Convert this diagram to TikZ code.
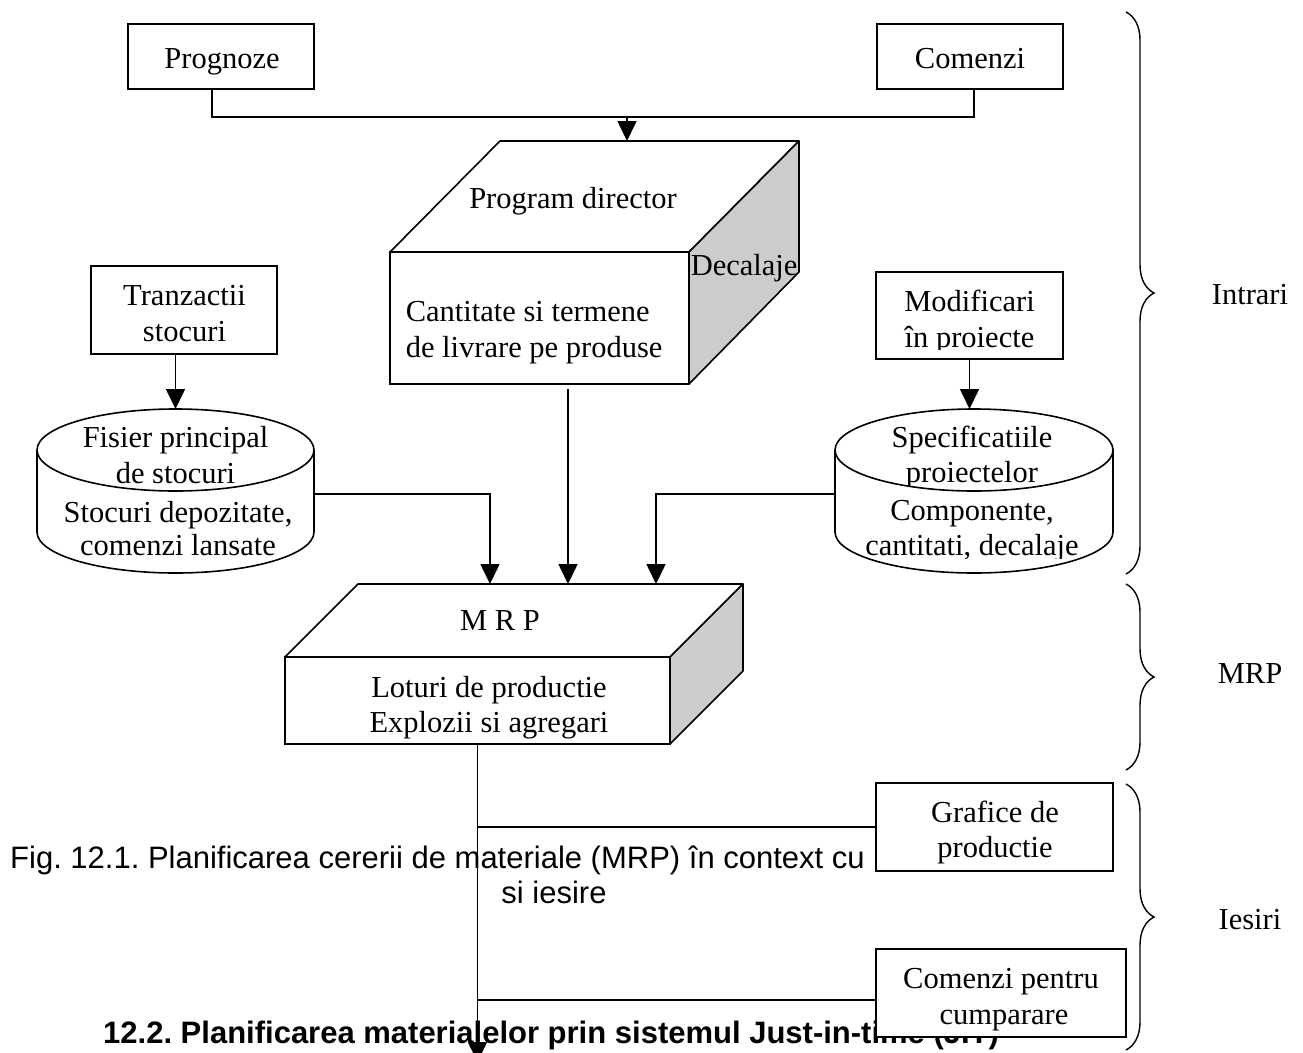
\documentclass[tikz,border=0pt]{standalone}
\usepackage{fontspec}
\setmainfont{Liberation Serif}
\newfontfamily\arialfont{Liberation Sans}
\usetikzlibrary{arrows.meta,decorations.pathreplacing}
\pgfdeclarelayer{bg}
\pgfsetlayers{bg,main}
\begin{document}
\frenchspacing
\begin{tikzpicture}[x=1pt,y=-1pt,line width=1.6pt,
  box/.style={draw,fill=white,inner sep=0pt,outer sep=0pt},
  ghost/.style={inner sep=0pt,outer sep=0pt},
  txt/.style={inner sep=0pt,anchor=base,font=\fontsize{30.5}{35}\selectfont},
  txtl/.style={txt,anchor=base west},
  captxt/.style={inner sep=0pt,anchor=base,font=\arialfont\fontsize{31}{35}\selectfont},
  captxtb/.style={captxt,font=\arialfont\bfseries\fontsize{31}{35}\selectfont},
  arr/.style={-{Triangle[length=20pt,width=19pt]}},
  conn/.style={line width=1.6pt},
  sideface/.style={draw,fill=black!20,line join=round},
  topface/.style={draw,fill=white,line join=round},
  brc/.style={decorate,decoration={brace,amplitude=28pt},line width=1.4pt}
]
\useasboundingbox (0,0) rectangle (1303,1052);

% ---------- boxes ----------
\node[box,minimum width=186pt,minimum height=65pt] (prog) at (221,56.5) {};
\node[box,minimum width=186pt,minimum height=65pt] (com) at (970,56.5) {};
\node[box,minimum width=299pt,minimum height=132pt] (pd) at (539.5,318) {};
\draw[topface] (pd.north west) -- ++(110,-111) -- ++(299,0) -- (pd.north east) -- cycle;
\draw[sideface] (pd.north east) -- ++(110,-111) -- ++(0,131) -- (pd.south east) -- cycle;
\node[box,minimum width=186pt,minimum height=88pt] (tz) at (184,310) {};
\node[box,minimum width=187pt,minimum height=87pt] (mod) at (969.5,315.5) {};
\node[box,minimum width=385pt,minimum height=87pt] (mrp) at (477.5,700.5) {};
\draw[topface] (mrp.north west) -- ++(73,-73) -- ++(385,0) -- (mrp.north east) -- cycle;
\draw[sideface] (mrp.north east) -- ++(73,-73) -- ++(0,87) -- (mrp.south east) -- cycle;
\node[box,minimum width=237pt,minimum height=88pt] (gr) at (994.5,827) {};
\node[box,minimum width=250pt,minimum height=88pt] (cp) at (1001,993) {};

% ---------- cylinders ----------
\node[ghost,minimum width=277pt,minimum height=164pt] (cylL) at (175.5,491) {};
\draw (cylL.north) ++(0,41) ellipse[x radius=138.5,y radius=41];
\draw ([yshift=-41pt]cylL.north west) -- ([yshift=41pt]cylL.south west)
  arc[start angle=180,end angle=0,x radius=138.5,y radius=41] -- ([yshift=-41pt]cylL.north east);
\node[ghost,minimum width=278pt,minimum height=164pt] (cylR) at (974,491) {};
\draw (cylR.north) ++(0,41) ellipse[x radius=139,y radius=41];
\draw ([yshift=-41pt]cylR.north west) -- ([yshift=41pt]cylR.south west)
  arc[start angle=180,end angle=0,x radius=139,y radius=41] -- ([yshift=-41pt]cylR.north east);

% ---------- coordinates ----------
\coordinate (j0) at (627,117);
\coordinate (pdT) at (627,141);
\coordinate (mT1) at (490,584);
\coordinate (mT2) at (568,584);
\coordinate (mT3) at (656,584);
\coordinate (endB) at (477.5,1062);

% ---------- texts ----------
\node[txt] (t1) at (222,68) {Prognoze};
\node[txt] (t2) at (970,68) {Comenzi};
\node[txt] (t3) at (573,208) {Program director};
\node[txtl] (t4) at (690,275) {Decalaje};
\node[txtl] (t5) at (405,321) {Cantitate si termene};
\node[txtl] (t6) at (405,357) {de livrare pe produse};
\node[txt] (t7) at (184.5,305) {Tranzactii};
\node[txt] (t8) at (184.5,341) {stocuri};
\node[txt] (t9) at (175.5,447) {Fisier principal};
\node[txt] (t10) at (175.5,483) {de stocuri};
\node[txt] (t11) at (178,522) {Stocuri depozitate,};
\node[txt] (t12) at (178,555) {comenzi lansate};
\node[txt] (t13) at (969.5,311) {Modificari};
\begin{scope}
  \clip (876,272) rectangle (1063,349);
  \node[txt] (t14) at (969.5,347) {în proiecte};
\end{scope}
\node[txt] (t15) at (972,447) {Specificatiile};
\begin{scope}
  \clip (835,455) rectangle (1113,485);
  \node[txt] (t16) at (972,482) {proiectelor};
\end{scope}
\node[txt] (t17) at (972,520) {Componente,};
\begin{scope}
  \clip (835,525) rectangle (1113,558);
  \node[txt] (t18) at (972,555) {cantitati, decalaje};
\end{scope}
\node[txt] (t19) at (500,630) {M R P};
\node[txt] (t20) at (489,697) {Loturi de productie};
\node[txt] (t21) at (489,732) {Explozii si agregari};
\node[txt] (t22) at (995,822) {Grafice de};
\node[txt] (t23) at (995,857) {productie};
\node[txt] (t24) at (1001,988) {Comenzi pentru};
\node[txt] (t25) at (1004,1024) {cumparare};
\node[txt] (l1) at (1250,304) {Intrari};
\node[txt] (l2) at (1250,683) {MRP};
\node[txt] (l3) at (1250,929) {Iesiri};

% ---------- braces ----------
\coordinate (bA1) at (1126,12);
\coordinate (bA2) at (1126,574);
\coordinate (bB1) at (1126,584);
\coordinate (bB2) at (1126,770);
\coordinate (bC1) at (1126,784);
\coordinate (bC2) at (1126,1050);
\draw[brc] (bA1) -- (bA2);
\draw[brc] (bB1) -- (bB2);
\draw[brc] (bC1) -- (bC2);

% ---------- background layer: page, captions and connectors ----------
\begin{pgfonlayer}{bg}
  \fill[white] (0,0) rectangle (1303,1052);
  \node[captxt,anchor=base west] (c1) at (10,868) {Fig. 12.1. Planificarea cererii de materiale (MRP) în context cu};
  \node[captxt] (c2) at (554,903) {si iesire};
  \node[captxtb,anchor=base west] (c3) at (103,1043) {12.2. Planificarea materialelor prin sistemul Just-in-time (JIT)};

  \begin{scope}[conn]
  \draw[conn] ([xshift=-9pt]prog.south) -- ++(0,28) -| ([xshift=4pt]com.south);
  \draw[conn,arr] (j0) -- (pdT);
  \draw[conn,arr] (tz.south -| cylL.north) -- (cylL.north);
  \draw[conn,arr] (mod.south) -- (cylR.north -| mod.south);
  \draw[conn,arr] ([yshift=-3pt]cylL.east) -| (mT1);
  \draw[conn,arr] ([xshift=28.5pt,yshift=-5pt]pd.south) -- (mT2);
  \draw[conn,arr] ([yshift=-3pt]cylR.west) -| (mT3);
  \draw[conn,arr] (mrp.south) -- (endB);
  \draw[conn] (mrp.south |- gr.west) -- (gr.west);
  \draw[conn] ([yshift=-7pt]cp.west -| mrp.south) -- ([yshift=-7pt]cp.west);
  \end{scope}
\end{pgfonlayer}
\end{tikzpicture}
\end{document}
